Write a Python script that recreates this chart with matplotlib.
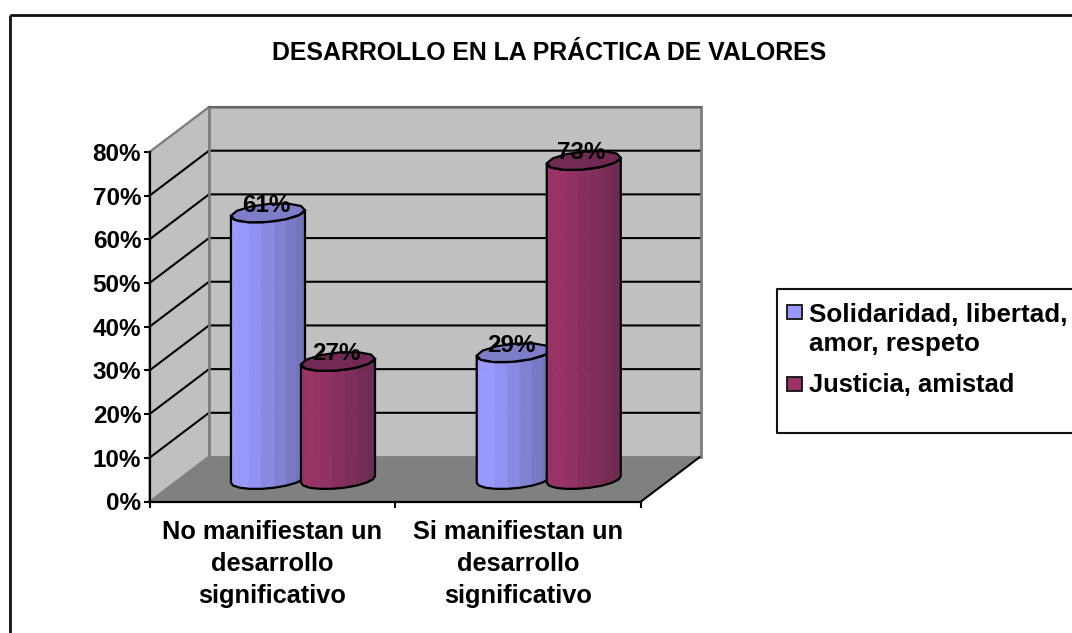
#!/usr/bin/env python3

import numpy as np
import matplotlib
matplotlib.use('Agg')
import matplotlib.pyplot as plt
from matplotlib.patches import Polygon, Rectangle
from matplotlib.colors import to_rgb

plt.rcParams['font.family'] = ['Liberation Sans', 'DejaVu Sans']
plt.rcParams['font.weight'] = 'bold'

title = 'DESARROLLO EN LA PRÁCTICA DE VALORES'
categories = ['No manifiestan un\ndesarrollo\nsignificativo', 'Si manifiestan un\ndesarrollo\nsignificativo']
series_names = ['Solidaridad, libertad,\namor, respeto', 'Justicia, amistad']
series_a = [61, 29]
series_b = [27, 73]
y_ticks = [0, 10, 20, 30, 40, 50, 60, 70, 80]

W, H = 1072, 633
# front plane of the 3d box, in pixels
x0, x1 = 149.5, 641
y0, y1 = 501.5, 152
fig = plt.figure(figsize=(W/100, H/100), dpi=100)

# background layer in pixels: chart frame, title, legend
bg = fig.add_axes([0, 0, 1, 1])
bg.set_xlim(0, W)
bg.set_ylim(H, 0)
bg.axis('off')
bg.plot([10, 10], [H, 15], color='#111111', lw=2, solid_capstyle='butt')
bg.plot([10, W], [15, 15], color='#111111', lw=2, solid_capstyle='butt')
bg.text(549.5, 53.5, title, ha='center', va='center', fontsize=17.9)

bg.plot([W, 777, 777, W], [289, 289, 433, 433], color='#111111', lw=1.5)
bg.add_patch(Rectangle((787, 305), 15, 14, fc='#9999FF', ec='#111111', lw=1.3))
bg.add_patch(Rectangle((787, 377), 15, 14, fc='#993366', ec='#111111', lw=1.3))
bg.text(809, 329.5, series_names[0], ha='left', va='center', fontsize=18.7, linespacing=1.26)
bg.text(809, 385.5, series_names[1], ha='left', va='center', fontsize=18.4)

ax = fig.add_axes([x0/W, 1-y0/H, (x1-x0)/W, (y0-y1)/H])
ax.patch.set_alpha(0)
ax.set_xlim(0, 2)
ax.set_ylim(0, 80)

# depth of the box expressed in data units
DX = 59.5/((x1-x0)/2)
DY = 45/((y0-y1)/80)

for s in ['top', 'right']:
    ax.spines[s].set_visible(False)
for s in ['left', 'bottom']:
    ax.spines[s].set_linewidth(1.6)
    ax.spines[s].set_zorder(6)
ax.set_yticks(y_ticks)
ax.set_yticklabels([str(v)+'%' for v in y_ticks], fontsize=17.5)
ax.set_xticks([0, 1, 2])
ax.set_xticklabels([])
ax.set_xticks([0.5, 1.5], minor=True)
ax.set_xticklabels(categories, minor=True, fontsize=18.3, linespacing=1.42)
ax.tick_params(axis='x', which='minor', length=0, pad=13.5)
ax.tick_params(axis='both', which='major', length=4, width=1.5, pad=2)

# walls and floor
top = y_ticks[-1]
ax.add_patch(Polygon([(0, 0), (DX, DY), (DX, top+DY), (0, top)], fc='#C0C0C0', ec='#808080', lw=1.4, zorder=1, clip_on=False))
ax.add_patch(Polygon([(DX, DY), (2+DX, DY), (2+DX, top+DY), (DX, top+DY)], fc='#C0C0C0', ec='#808080', lw=1.8, zorder=1, clip_on=False))
ax.add_patch(Polygon([(0, 0), (2, 0), (2+DX, DY), (DX, DY)], fc='#808080', ec='none', zorder=1, clip_on=False))
ax.plot([2, 2+DX], [0, DY], color='black', lw=1.5, zorder=2, clip_on=False)
for v in y_ticks[1:-1]:
    ax.plot([0, DX, 2+DX], [v, v+DY, v+DY], color='black', lw=1.5, zorder=2, clip_on=False, solid_joinstyle='miter')
ax.plot([DX, DX], [0+DY, top+DY], color='#808080', lw=1.8, zorder=3, clip_on=False)
ax.plot([2+DX, 2+DX], [0+DY, top+DY], color='#808080', lw=1.8, zorder=3, clip_on=False)
ax.plot([0, DX], [top, top+DY], color='#808080', lw=1.5, zorder=3, clip_on=False)
ax.plot([DX, 2+DX], [top+DY, top+DY], color='#666666', lw=1.5, zorder=3, clip_on=False)


def mix(c1, c2, f):
    a = np.array(to_rgb(c1))
    b = np.array(to_rgb(c2))
    return tuple(a+(b-a)*f)


# one faceted cylinder standing on the floor
def cylinder(pos, val, light, dark, cap, z):
    r = 34.8/((x1-x0)/2)
    qx = 0.212*DX
    qy = 0.212*DY
    cx = pos+0.5*DX
    base = 0.5*DY-0.1
    t0 = np.pi+np.arctan2(qx, r)
    ts = np.linspace(t0, t0+np.pi, 10)
    xs = cx+r*np.cos(ts)+qx*np.sin(ts)
    dy = qy*np.sin(ts)
    xmin, xmax = xs.min(), xs.max()
    for i in range(len(ts)-1):
        f = ((xs[i]+xs[i+1])/2-xmin)/(xmax-xmin)
        f = max(0, (f-0.2)/0.8)
        col = mix(light, dark, f)
        quad = [(xs[i], base+dy[i]), (xs[i+1], base+dy[i+1]), (xs[i+1], base+val+dy[i+1]), (xs[i], base+val+dy[i])]
        ax.add_patch(Polygon(quad, fc=col, ec=col, lw=0.4, zorder=z, clip_on=False))
    side = list(zip(xs, base+val+dy))+list(zip(xs[::-1], base+dy[::-1]))
    ax.add_patch(Polygon(side, fc='none', ec='black', lw=1.6, zorder=z+0.1, clip_on=False))
    tt = np.linspace(0, 2*np.pi, 13)
    ring = list(zip(cx+r*np.cos(tt+0.3)+qx*np.sin(tt+0.3), base+val+qy*np.sin(tt+0.3)))
    ax.add_patch(Polygon(ring, fc=cap, ec='black', lw=1.6, zorder=z+0.2, clip_on=False))
    ax.annotate(str(val)+'%', (cx, base+val), xytext=(-1.5, 5.5), textcoords='offset points', ha='center', va='center', fontsize=17.5, zorder=10, annotation_clip=False)


for i in range(len(categories)):
    cylinder(i+0.361, series_a[i], '#9999FF', '#7070B4', '#7E7EC8', 4+i)
    cylinder(i+0.646, series_b[i], '#993366', '#6A2A50', '#722A54', 4.5+i)

fig.savefig('out.png', dpi=100)
